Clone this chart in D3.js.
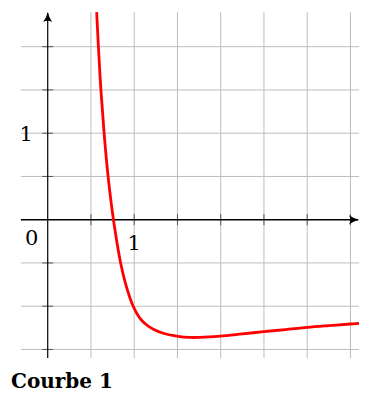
<!DOCTYPE html>
<html>
<head>
<meta charset="utf-8">
<script src="https://cdn.jsdelivr.net/npm/d3@7"></script>
<style>
  body { margin: 0; background: #fff; }
  text { font-family: "DejaVu Serif", serif; }
</style>
</head>
<body>
<script>
// values
var curveX = [0.566, 0.586, 0.615, 0.652, 0.698, 0.760, 0.843, 0.903, 0.988, 1.067, 1.145, 1.221, 1.336, 1.491, 1.645, 1.76, 1.995, 2.25, 2.497, 2.75, 3.0, 3.25, 3.498, 3.6];
var curveY = [2.40, 2.0, 1.5, 1.0, 0.5, 0.0, -0.5, -0.75, -1.0, -1.14, -1.217, -1.267, -1.313, -1.345, -1.361, -1.360, -1.345, -1.32, -1.295, -1.27, -1.244, -1.224, -1.206, -1.198];
var xGrid = [0, 0.5, 1, 1.5, 2, 2.5, 3, 3.5];
var yGrid = [-1.5, -1, -0.5, 0, 0.5, 1, 1.5, 2];
var xDomain = [-0.31, 3.6];
var yDomain = [-1.6, 2.4];
var title = "Courbe 1";

var width = 373, height = 403;

var x = d3.scaleLinear().domain(xDomain).range([20.9, 359.1]);
var y = d3.scaleLinear().domain(yDomain).range([358.1, 12.1]);

var svg = d3.select("body").append("svg")
  .attr("width", width)
  .attr("height", height);

var defs = svg.append("defs");
defs.append("clipPath").attr("id", "plot")
  .append("rect")
  .attr("x", x(xDomain[0])).attr("y", y(yDomain[1]))
  .attr("width", x(xDomain[1]) - x(xDomain[0]))
  .attr("height", y(yDomain[0]) - y(yDomain[1]));

defs.append("marker")
  .attr("id", "arrow")
  .attr("viewBox", "-10 -5 12 10")
  .attr("refX", 0).attr("refY", 0)
  .attr("markerWidth", 12).attr("markerHeight", 10)
  .attr("markerUnits", "userSpaceOnUse")
  .attr("orient", "auto")
  .append("path")
  .attr("d", "M-9,-4.5 Q-4,-1 1,0 Q-4,1 -9,4.5 Q-6.5,0 -9,-4.5Z")
  .attr("fill", "#000");

// grid
var grid = svg.append("g").attr("stroke", "#bdbdbd").attr("stroke-width", 1);
grid.selectAll(".vx").data(xGrid.filter(d => d !== 0)).enter().append("line")
  .attr("x1", d => x(d)).attr("x2", d => x(d))
  .attr("y1", y(yDomain[1])).attr("y2", y(yDomain[0]));
grid.selectAll(".hy").data(yGrid.filter(d => d !== 0)).enter().append("line")
  .attr("x1", x(xDomain[0])).attr("x2", x(xDomain[1]))
  .attr("y1", d => y(d)).attr("y2", d => y(d));

// axis ticks
var ticks = svg.append("g").attr("stroke", "#555").attr("stroke-width", 1);
ticks.selectAll(".tx").data(xGrid.filter(d => d !== 0)).enter().append("line")
  .attr("x1", d => x(d)).attr("x2", d => x(d))
  .attr("y1", y(0) - 5.5).attr("y2", y(0) + 5.5);
ticks.selectAll(".ty").data(yGrid.filter(d => d !== 0)).enter().append("line")
  .attr("y1", d => y(d)).attr("y2", d => y(d))
  .attr("x1", x(0) - 5.5).attr("x2", x(0) + 5.5);

// axes with arrows
svg.append("line")
  .attr("x1", x(xDomain[0])).attr("x2", x(xDomain[1]) - 1)
  .attr("y1", y(0)).attr("y2", y(0))
  .attr("stroke", "#000").attr("stroke-width", 1.4)
  .attr("marker-end", "url(#arrow)");
svg.append("line")
  .attr("x1", x(0)).attr("x2", x(0))
  .attr("y1", y(yDomain[0])).attr("y2", y(yDomain[1]) + 1)
  .attr("stroke", "#000").attr("stroke-width", 1.2)
  .attr("marker-end", "url(#arrow)");

// curve
var pts = curveX.map((d, i) => [d, curveY[i]]);
svg.append("path")
  .datum(pts)
  .attr("clip-path", "url(#plot)")
  .attr("fill", "none")
  .attr("stroke", "#ff0000")
  .attr("stroke-width", 2.8)
  .attr("d", d3.line()
    .x(d => x(d[0]))
    .y(d => y(d[1]))
    .curve(d3.curveCatmullRom.alpha(0.5)));

// labels
svg.append("text").attr("x", x(0) - 21.5).attr("y", y(1) + 7.5)
  .attr("text-anchor", "middle").attr("font-size", 21).text("1");
svg.append("text").attr("x", x(0) - 16).attr("y", y(0) + 25.5)
  .attr("text-anchor", "middle").attr("font-size", 21).text("0");
svg.append("text").attr("x", x(1)).attr("y", y(0) + 30.5)
  .attr("text-anchor", "middle").attr("font-size", 21).text("1");

svg.append("text").attr("x", 11).attr("y", 388)
  .attr("font-size", 20).attr("font-weight", "bold").text(title);
</script>
</body>
</html>
